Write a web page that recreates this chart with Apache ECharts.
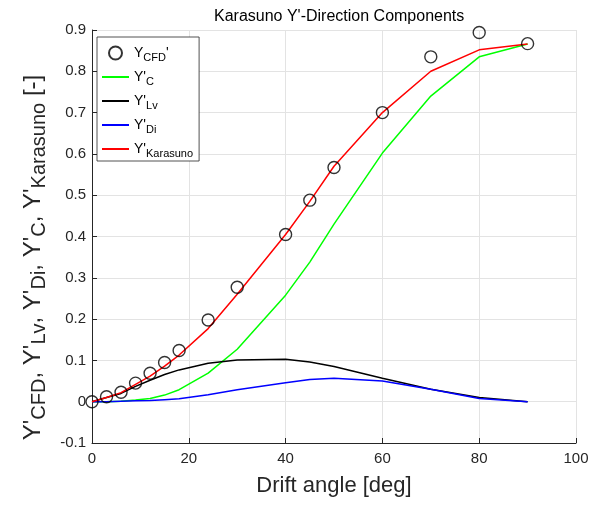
<!DOCTYPE html>
<html>
<head>
<meta charset="utf-8">
<script src="https://cdn.jsdelivr.net/npm/echarts@6/dist/echarts.min.js"></script>
<style>
    html, body { margin: 0; padding: 0; background: #ffffff; }
    #chart { width: 607px; height: 506px; }
</style>
</head>
<body>
<div id="chart"></div>
<script>
    // drift angles [deg]
    var angles = [0, 3, 6, 9, 12, 15, 18, 24, 30, 40, 45, 50, 60, 70, 80, 90];
    // components
    var yCfd      = [0, 0.012, 0.023, 0.045, 0.069, 0.095, 0.124, 0.198, 0.277, 0.405, 0.488, 0.567, 0.700, 0.835, 0.894, 0.867];
    var yC        = [0, 0, 0.001, 0.004, 0.008, 0.016, 0.029, 0.069, 0.127, 0.258, 0.338, 0.430, 0.602, 0.740, 0.835, 0.866];
    var yLv       = [0, 0.010, 0.020, 0.037, 0.052, 0.066, 0.077, 0.093, 0.101, 0.103, 0.096, 0.085, 0.057, 0.030, 0.010, 0];
    var yDi       = [0, 0, 0.001, 0.002, 0.003, 0.005, 0.007, 0.017, 0.029, 0.046, 0.054, 0.057, 0.050, 0.030, 0.008, 0];
    var yKarasuno = [0, 0.010, 0.022, 0.042, 0.062, 0.086, 0.113, 0.177, 0.260, 0.405, 0.485, 0.570, 0.700, 0.800, 0.852, 0.866];
    var xTicks = { min: 0, max: 100, step: 20 };
    var yTicks = { min: -0.1, max: 0.9, step: 0.1 };

    function pairs(ys) {
        return angles.map(function (a, i) { return [a, ys[i]]; });
    }

    var font = 'Liberation Sans, Arial, Helvetica, sans-serif';
    var legendText = {
        CFD: "{m|Y}{s|CFD}{m|'}",
        C: "{m|Y'}{s|C}",
        Lv: "{m|Y'}{s|Lv}",
        Di: "{m|Y'}{s|Di}",
        Karasuno: "{m|Y'}{s|Karasuno}"
    };

    var chart = echarts.init(document.getElementById('chart'), null, { renderer: 'canvas' });

    var lineSeries = function (name, ys, color) {
        return {
            name: name,
            type: 'line',
            data: pairs(ys),
            symbol: 'none',
            lineStyle: { color: color, width: 1.5 },
            itemStyle: { color: color },
            z: 2
        };
    };

    // plain line in the legend, no dot
    var lineLegend = function (name) {
        return { name: name, itemStyle: { opacity: 0 } };
    };

    var options = {
        backgroundColor: '#ffffff',
        animation: false,
        textStyle: { fontFamily: font },
        title: {
            text: "Karasuno Y'-Direction Components",
            left: 209,
            top: 4,
            textStyle: { fontFamily: font, fontSize: 16, fontWeight: 'normal', color: '#000000' }
        },
        grid: { left: 92, right: 31, top: 30, bottom: 63 },
        legend: {
            orient: 'vertical',
            left: 97,
            top: 37,
            itemWidth: 27,
            itemHeight: 13,
            itemGap: 4,
            padding: [6, 6, 2, 4],
            backgroundColor: '#ffffff',
            borderColor: '#262626',
            borderWidth: 0.8,
            data: ['CFD', lineLegend('C'), lineLegend('Lv'), lineLegend('Di'), lineLegend('Karasuno')],
            formatter: function (name) { return legendText[name]; },
            textStyle: {
                rich: {
                    m: { fontFamily: font, fontSize: 14, color: '#000000', lineHeight: 16 },
                    s: { fontFamily: font, fontSize: 11, color: '#000000', padding: [9, 0, 0, 0], lineHeight: 12 }
                }
            }
        },
        xAxis: {
            type: 'value',
            min: xTicks.min,
            max: xTicks.max,
            interval: xTicks.step,
            name: 'Drift angle [deg]',
            nameLocation: 'middle',
            nameGap: 32,
            nameTextStyle: { fontFamily: font, fontSize: 22, color: '#262626' },
            axisLine: { onZero: false, lineStyle: { color: '#262626', width: 1 } },
            axisTick: { inside: true, length: 5, lineStyle: { color: '#262626' } },
            axisLabel: { fontFamily: font, fontSize: 15, color: '#262626', margin: 8 },
            splitLine: { show: true, lineStyle: { color: '#e3e3e3', width: 1 } }
        },
        yAxis: {
            type: 'value',
            min: yTicks.min,
            max: yTicks.max,
            interval: yTicks.step,
            name: "{m|Y'}{s|CFD}{m|, Y'}{s|Lv}{m|, Y'}{s|Di}{m|, Y'}{s|C}{m|, Y'}{s|Karasuno}{m| [-]}",
            nameLocation: 'middle',
            nameGap: 36,
            nameRotate: 90,
            nameTextStyle: {
                padding: [0, 42, 0, 0],
                rich: {
                    m: { fontFamily: font, fontSize: 24, color: '#262626', lineHeight: 27 },
                    s: { fontFamily: font, fontSize: 20, color: '#262626', padding: [12, 0, 0, 0], lineHeight: 21 }
                }
            },
            axisLine: { show: true, onZero: false, lineStyle: { color: '#262626', width: 1 } },
            axisTick: { show: true, inside: true, length: 5, lineStyle: { color: '#262626' } },
            axisLabel: {
                fontFamily: font, fontSize: 15, color: '#262626', margin: 6,
                formatter: function (v) { return Math.abs(v) < 1e-9 ? '0' : v.toFixed(1); }
            },
            splitLine: { show: true, lineStyle: { color: '#e3e3e3', width: 1 } }
        },
        series: [
            {
                name: 'CFD',
                type: 'scatter',
                data: pairs(yCfd),
                symbol: 'circle',
                symbolSize: 12,
                itemStyle: { color: 'rgba(0,0,0,0)', borderColor: '#000000', borderWidth: 1.4 },
                z: 3
            },
            lineSeries('C', yC, '#00ff00'),
            lineSeries('Lv', yLv, '#000000'),
            lineSeries('Di', yDi, '#0000ff'),
            lineSeries('Karasuno', yKarasuno, '#ff0000')
        ]
    };

    chart.setOption(options);
</script>
</body>
</html>
